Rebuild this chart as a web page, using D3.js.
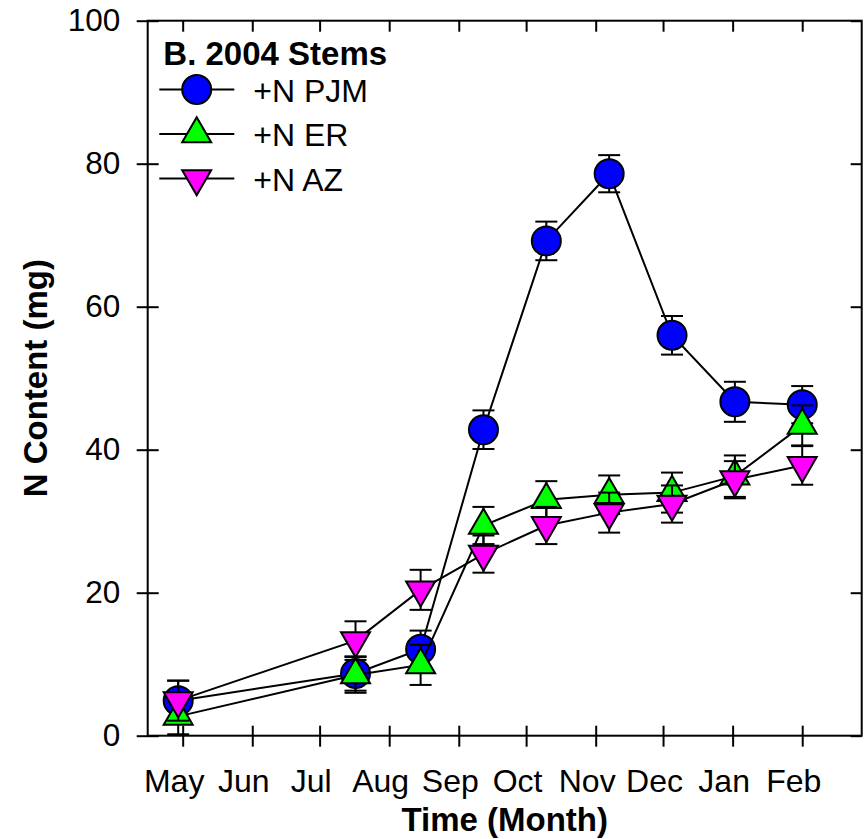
<!DOCTYPE html>
<html>
<head>
<meta charset="utf-8">
<script src="https://cdn.jsdelivr.net/npm/d3@7"></script>
<style>
  body { margin: 0; background: #fff; }
  svg text { font-family: "Liberation Sans", Arial, sans-serif; }
</style>
</head>
<body>
<svg id="chart" width="867" height="839"></svg>
<script>
// sampling dates (2004-2005)
var dates = ["2004-04-29", "2004-07-17", "2004-08-15", "2004-09-12", "2004-10-10",
             "2004-11-07", "2004-12-05", "2005-01-02", "2005-02-01"];

// N content (mg) and error bars
var pjm     = [4.9, 8.7, 12.1, 42.8, 69.2, 78.6, 56.0, 46.7, 46.3];
var pjm_err = [2.8, 2.4, 2.6, 2.7, 2.7, 2.6, 2.7, 2.8, 2.6];
var er      = [2.7, 8.5, 9.9, 29.4, 33.0, 33.7, 34.0, 36.3, 43.4];
var er_err  = [2.5, 2.5, 2.8, 2.6, 2.6, 2.7, 2.8, 2.9, 2.8];
var az      = [4.9, 13.3, 20.4, 25.4, 29.4, 31.2, 32.4, 35.8, 37.8];
var az_err  = [2.8, 2.7, 2.8, 2.6, 2.6, 2.8, 2.6, 2.6, 2.7];

var month_labels = ["May", "Jun", "Jul", "Aug", "Sep", "Oct", "Nov", "Dec", "Jan", "Feb"];
var y_ticks = [0, 20, 40, 60, 80, 100];
var series_names = ["+N PJM", "+N ER", "+N AZ"];

var svg = d3.select("svg#chart");
var parse = d3.utcParse("%Y-%m-%d");

var plot_left = 147.7, plot_right = 861.7, plot_top = 20.7, plot_bottom = 735.7;

var x = d3.scaleUtc()
    .domain([new Date(Date.UTC(2004, 3, 15, 10)), new Date(Date.UTC(2005, 1, 27, 12))])
    .range([plot_left, plot_right]);
var y = d3.scaleLinear().domain([0, 100]).range([plot_bottom, plot_top]);

var months = d3.utcMonth.range(new Date(Date.UTC(2004, 4, 1)), new Date(Date.UTC(2005, 1, 2)));

// left axis, ticks cross the axis line
var gy = svg.append("g")
    .attr("transform", "translate(" + plot_left + ",0)")
    .call(d3.axisLeft(y).tickValues(y_ticks).tickSize(11).tickSizeOuter(0).tickPadding(16.5));
gy.select(".domain").remove();
gy.selectAll(".tick line").attr("x1", 11).attr("stroke-width", 2);
gy.selectAll(".tick text").attr("font-size", 31.5).attr("fill", "#000");

// bottom axis
var gx = svg.append("g")
    .attr("transform", "translate(0," + plot_bottom + ")")
    .call(d3.axisBottom(x).tickValues(months).tickSize(11).tickSizeOuter(0)
        .tickFormat(function(d, i) { return month_labels[i]; }));
gx.select(".domain").remove();
gx.selectAll(".tick line").attr("y1", -10).attr("stroke-width", 2);
gx.selectAll(".tick text")
    .attr("font-size", 32).attr("fill", "#000")
    .attr("y", 56).attr("dy", 0).attr("dx", -9);

// top and right axes, inner ticks only
var gt = svg.append("g")
    .attr("transform", "translate(0," + plot_top + ")")
    .call(d3.axisTop(x).tickValues(months).tickSize(-11).tickSizeOuter(0).tickFormat(""));
gt.select(".domain").remove();
gt.selectAll(".tick line").attr("stroke-width", 2);

var gr = svg.append("g")
    .attr("transform", "translate(" + plot_right + ",0)")
    .call(d3.axisRight(y).tickValues(y_ticks).tickSize(-11).tickSizeOuter(0).tickFormat(""));
gr.select(".domain").remove();
gr.selectAll(".tick line").attr("stroke-width", 2);

// frame
svg.append("rect")
    .attr("x", plot_left).attr("y", plot_top)
    .attr("width", plot_right - plot_left).attr("height", plot_bottom - plot_top)
    .attr("fill", "none").attr("stroke", "#000").attr("stroke-width", 2);

// axis titles
svg.append("text")
    .attr("x", (plot_left + plot_right) / 2).attr("y", 831)
    .attr("text-anchor", "middle")
    .attr("font-size", 33).attr("font-weight", "bold")
    .text("Time (Month)");

svg.append("text")
    .attr("transform", "translate(46.5," + (plot_top + plot_bottom) / 2 + ") rotate(-90)")
    .attr("text-anchor", "middle")
    .attr("font-size", 33).attr("font-weight", "bold")
    .text("N Content (mg)");

// symbols, placed by centroid
var tri_side = 29;
var tri_h = tri_side * Math.sqrt(3) / 2;
function symbol_path(kind) {
    if (kind == "up") {
        return "M0," + (-2 * tri_h / 3) + "L" + (tri_side / 2) + "," + (tri_h / 3) +
               "L" + (-tri_side / 2) + "," + (tri_h / 3) + "Z";
    }
    return "M0," + (2 * tri_h / 3) + "L" + (tri_side / 2) + "," + (-tri_h / 3) +
           "L" + (-tri_side / 2) + "," + (-tri_h / 3) + "Z";
}

function draw_marker(g, kind, color, cx, cy) {
    if (kind == "circle") {
        g.append("circle").attr("cx", cx).attr("cy", cy).attr("r", 14.5)
            .attr("fill", color).attr("stroke", "#000").attr("stroke-width", 2);
    } else {
        g.append("path").attr("d", symbol_path(kind))
            .attr("transform", "translate(" + cx + "," + cy + ")")
            .attr("fill", color).attr("stroke", "#000").attr("stroke-width", 2)
            .attr("stroke-linejoin", "miter");
    }
}

var series = [
    {name: series_names[0], values: pjm, err: pjm_err, kind: "circle", color: "#0000ff"},
    {name: series_names[1], values: er,  err: er_err,  kind: "up",     color: "#00ff00"},
    {name: series_names[2], values: az,  err: az_err,  kind: "down",   color: "#ff00ff"}
];

var line = d3.line()
    .x(function(d) { return x(parse(d.date)); })
    .y(function(d) { return y(d.v); });

var cap = 11;
series.forEach(function(s) {
    var pts = dates.map(function(d, i) { return {date: d, v: s.values[i], e: s.err[i]}; });
    var g = svg.append("g");

    g.append("path").datum(pts)
        .attr("d", line)
        .attr("fill", "none").attr("stroke", "#000").attr("stroke-width", 2);

    pts.forEach(function(p) {
        var px = x(parse(p.date));
        var y1 = y(p.v + p.e), y2 = y(p.v - p.e);
        g.append("line").attr("x1", px).attr("x2", px).attr("y1", y1).attr("y2", y2)
            .attr("stroke", "#000").attr("stroke-width", 2);
        [y1, y2].forEach(function(yy) {
            g.append("line").attr("x1", px - cap).attr("x2", px + cap)
                .attr("y1", yy).attr("y2", yy)
                .attr("stroke", "#000").attr("stroke-width", 2);
        });
    });

    pts.forEach(function(p) {
        draw_marker(g, s.kind, s.color, x(parse(p.date)), y(p.v));
    });
});

// legend
var legend = svg.append("g");
legend.append("text")
    .attr("x", 163.3).attr("y", 65)
    .attr("font-size", 33).attr("font-weight", "bold")
    .text("B. 2004 Stems");

var row_y = [89.5, 134, 178.5];
series.forEach(function(s, i) {
    legend.append("line")
        .attr("x1", 159.3).attr("x2", 234.3)
        .attr("y1", row_y[i]).attr("y2", row_y[i])
        .attr("stroke", "#000").attr("stroke-width", 2);
    draw_marker(legend, s.kind, s.color, 196.7, row_y[i]);
    legend.append("text")
        .attr("x", 253.3).attr("y", row_y[i] + 12)
        .attr("font-size", 32)
        .text(s.name);
});
</script>
</body>
</html>
